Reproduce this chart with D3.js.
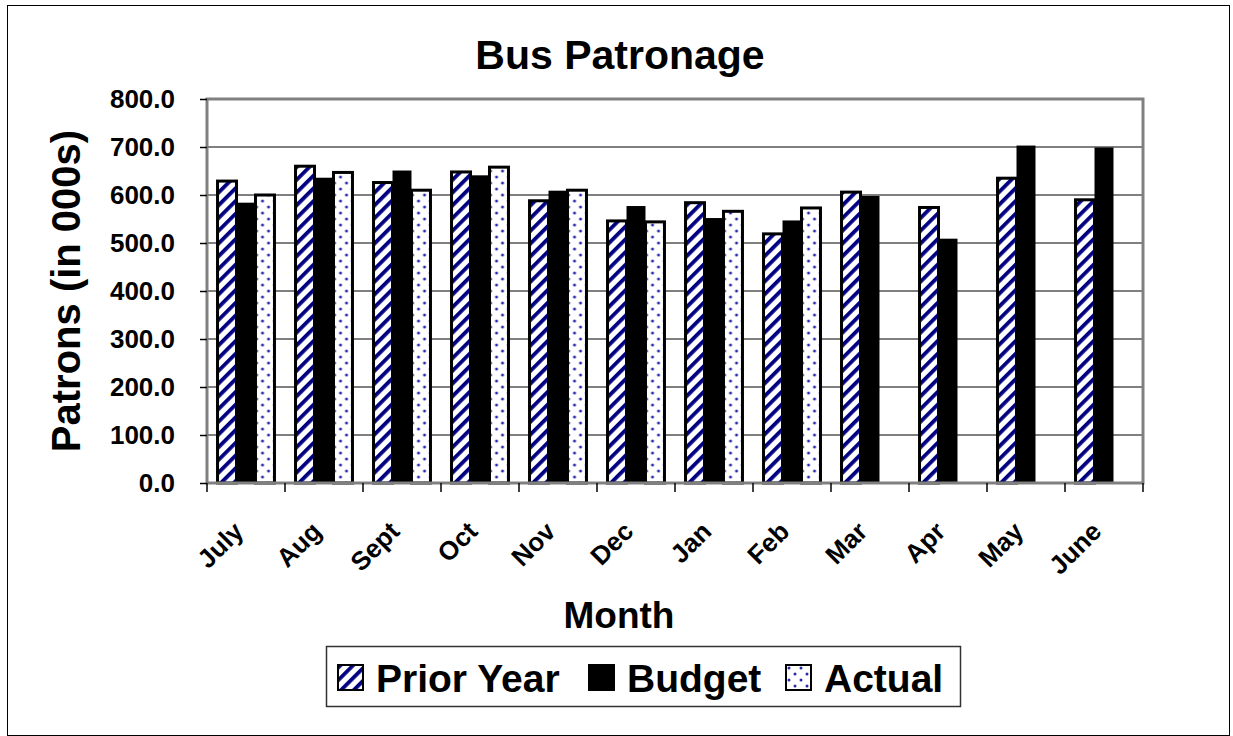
<!DOCTYPE html>
<html>
<head>
<meta charset="utf-8">
<script src="https://cdn.jsdelivr.net/npm/d3@7"></script>
<style>
  body { margin: 0; background: #fff; }
  text { font-family: "Liberation Sans", Arial, sans-serif; font-weight: bold; fill: #000; }
</style>
</head>
<body>
<div id="chart"></div>
<script>
const months = ['July', 'Aug', 'Sept', 'Oct', 'Nov', 'Dec', 'Jan', 'Feb', 'Mar', 'Apr', 'May', 'June'];
const seriesNames = ['Prior Year', 'Budget', 'Actual'];
const priorYear = [629, 660, 626, 648, 588, 546, 584, 519, 606, 574, 635, 590];
const budget = [584, 636, 651, 641, 609, 577, 552, 547, 598, 509, 703, 699];
const actual = [600, 647, 610, 658, 610, 544, 566, 573, null, null, null, null];
const yTicks = [0, 100, 200, 300, 400, 500, 600, 700, 800];

const W = 1233, H = 736;
const plot = { left: 207, right: 1143, top: 99, bottom: 483 };

const svg = d3.select('#chart').append('svg')
    .attr('width', W)
    .attr('height', H);

// fill patterns for prior year (stripes) and actual (dots)
const defs = svg.append('defs');
const stripes = defs.append('pattern')
    .attr('id', 'stripes')
    .attr('patternUnits', 'userSpaceOnUse')
    .attr('width', 9)
    .attr('height', 9)
    .attr('patternTransform', 'rotate(45)');
stripes.append('rect').attr('width', 9).attr('height', 9).attr('fill', '#fff');
stripes.append('rect').attr('width', 3.8).attr('height', 9).attr('fill', '#000080');

const dots = defs.append('pattern')
    .attr('id', 'dots')
    .attr('patternUnits', 'userSpaceOnUse')
    .attr('width', 12)
    .attr('height', 12);
dots.append('rect').attr('width', 12).attr('height', 12).attr('fill', '#fff');
dots.selectAll('circle')
    .data([[3, 3], [9, 9]])
    .enter().append('circle')
    .attr('cx', d => d[0]).attr('cy', d => d[1])
    .attr('r', 1.5).attr('fill', '#2a2aa8');

const fills = { 'Prior Year': 'url(#stripes)', 'Budget': '#000', 'Actual': 'url(#dots)' };
const strokes = { 'Prior Year': 3, 'Budget': 0, 'Actual': 3 };

// outer chart border
svg.append('rect')
    .attr('x', 7.5).attr('y', 5.5)
    .attr('width', 1222).attr('height', 730)
    .attr('fill', '#fff')
    .attr('stroke', '#000')
    .attr('stroke-width', 1);

const x = d3.scaleBand()
    .domain(months)
    .range([plot.left, plot.right])
    .paddingInner(0.27)
    .paddingOuter(0.135);

const xs = d3.scaleBand()
    .domain(seriesNames)
    .range([0, x.bandwidth()]);

const y = d3.scaleLinear()
    .domain([0, 800])
    .range([plot.bottom, plot.top]);

// gridlines
svg.append('g')
    .selectAll('line')
    .data(yTicks.filter(d => d > 0 && d < 800))
    .enter().append('line')
    .attr('x1', plot.left).attr('x2', plot.right)
    .attr('y1', d => y(d)).attr('y2', d => y(d))
    .attr('stroke', '#000')
    .attr('stroke-width', 1);

const rows = months.map((m, i) => ({
    month: m,
    values: [
        { key: 'Prior Year', value: priorYear[i] },
        { key: 'Budget', value: budget[i] },
        { key: 'Actual', value: actual[i] }
    ].filter(d => d.value != null)
}));

const groups = svg.append('g')
    .selectAll('g')
    .data(rows)
    .enter().append('g')
    .attr('transform', d => 'translate(' + x(d.month) + ',0)');

groups.selectAll('rect')
    .data(d => d.values)
    .enter().append('rect')
    .attr('x', d => xs(d.key))
    .attr('width', xs.bandwidth())
    .attr('y', d => y(d.value))
    .attr('height', d => y(0) - y(d.value))
    .attr('fill', d => fills[d.key])
    .attr('stroke', d => strokes[d.key] ? '#000' : 'none')
    .attr('stroke-width', d => strokes[d.key]);

// plot frame
svg.append('rect')
    .attr('x', plot.left).attr('y', plot.top)
    .attr('width', plot.right - plot.left)
    .attr('height', plot.bottom - plot.top)
    .attr('fill', 'none')
    .attr('stroke', '#808080')
    .attr('stroke-width', 3);

// y axis
const yAxis = svg.append('g')
    .attr('transform', 'translate(' + plot.left + ',0)')
    .call(d3.axisLeft(y).tickValues(yTicks).tickFormat(d3.format('.1f')).tickSize(7).tickPadding(25));
yAxis.select('.domain').remove();
yAxis.selectAll('line').attr('stroke', '#000').attr('stroke-width', 1.5);
yAxis.selectAll('text')
    .style('font-size', '26px')
    .style('font-family', '"Liberation Sans", Arial, sans-serif')
    .style('font-weight', 'bold');

// x axis ticks sit on the category boundaries
const boundaries = months.map(m => x(m) - x.step() * x.paddingInner() / 2).concat([plot.right]);
svg.append('g')
    .selectAll('line')
    .data(boundaries)
    .enter().append('line')
    .attr('x1', d => d).attr('x2', d => d)
    .attr('y1', plot.bottom).attr('y2', plot.bottom + 9)
    .attr('stroke', '#000')
    .attr('stroke-width', 1.5);

svg.append('g')
    .selectAll('text')
    .data(months)
    .enter().append('text')
    .attr('transform', d => 'translate(' + (x(d) + x.bandwidth() / 2 - 1) + ',533) rotate(-45)')
    .attr('text-anchor', 'end')
    .style('font-size', '26px')
    .text(d => d);

// titles
svg.append('text')
    .attr('x', 620).attr('y', 69)
    .attr('text-anchor', 'middle')
    .style('font-size', '41px')
    .text('Bus Patronage');

svg.append('text')
    .attr('transform', 'translate(80,' + ((plot.top + plot.bottom) / 2) + ') rotate(-90)')
    .attr('text-anchor', 'middle')
    .style('font-size', '40px')
    .text('Patrons (in 000s)');

svg.append('text')
    .attr('x', 619).attr('y', 628)
    .attr('text-anchor', 'middle')
    .style('font-size', '37px')
    .text('Month');

// legend
svg.append('rect')
    .attr('x', 326.5).attr('y', 646.5)
    .attr('width', 634).attr('height', 60)
    .attr('fill', '#fff')
    .attr('stroke', '#333')
    .attr('stroke-width', 1.5);

const legendX = { 'Prior Year': 338, 'Budget': 589, 'Actual': 786 };
const legend = svg.append('g')
    .selectAll('g')
    .data(seriesNames)
    .enter().append('g')
    .attr('transform', d => 'translate(' + legendX[d] + ',665)');

legend.append('rect')
    .attr('width', 25).attr('height', 25)
    .attr('fill', d => fills[d])
    .attr('stroke', '#000')
    .attr('stroke-width', 2);

legend.append('text')
    .attr('x', 38).attr('y', 27)
    .style('font-size', '39px')
    .text(d => d);
</script>
</body>
</html>
